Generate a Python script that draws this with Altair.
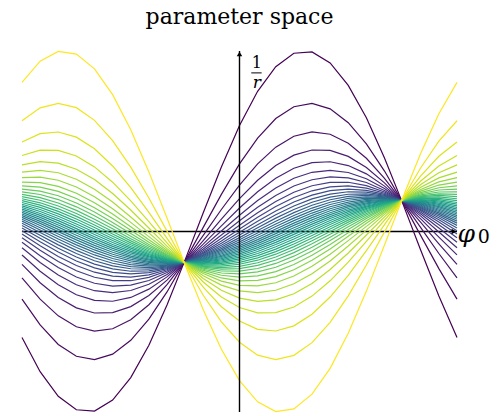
import numpy as np
import pandas as pd
import altair as alt

# Common crossing point of every curve in (phi0, 1/r) space
PHI_STAR = -0.8
KAPPA_STAR = -1.0

# Sampling grid of the azimuth phi0 (coarse, so the polylines show their corners)
phi0_grid = np.linspace(-np.pi, np.pi, 25)

# Slope of each hit curve at the crossing point, ordered purple -> yellow
slopes = [5.741, 4.013, 3.060, 2.451, 2.026, 1.703, 1.453, 1.251, 1.082, 0.937,
          0.811, 0.697, 0.596, 0.503, 0.417, 0.335, 0.257, 0.182, 0.108, 0.036,
          -0.036, -0.108, -0.182, -0.257, -0.335, -0.417, -0.503, -0.596, -0.697, -0.811,
          -0.937, -1.082, -1.251, -1.453, -1.703, -2.026, -2.451, -3.060, -4.013, -5.741]

Y_MAX = 5.827

rows = []
for i, b in enumerate(slopes):
    for p in phi0_grid:
        rows.append({
            "hit": i,
            "phi0": p,
            "inv_r": KAPPA_STAR * np.cos(p - PHI_STAR) + b * np.sin(p - PHI_STAR),
        })
curves_df = pd.DataFrame(rows)

x_scale = alt.Scale(domain=[-np.pi, np.pi], nice=False, zero=False)
y_scale = alt.Scale(domain=[-Y_MAX, Y_MAX], nice=False, zero=False)

# Horizontal phi0 axis (drawn under the curves)
h_axis_df = pd.DataFrame({"x": [-np.pi], "x2": [np.pi], "y": [0.0]})
h_axis = alt.Chart(h_axis_df).mark_rule(color="black", strokeWidth=1.4).encode(
    x=alt.X("x:Q", scale=x_scale, axis=None),
    x2="x2:Q",
    y=alt.Y("y:Q", scale=y_scale, axis=None),
)
h_head = alt.Chart(pd.DataFrame({"x": [np.pi], "y": [0.0]})).mark_point(
    shape="triangle-right", filled=True, color="black", size=30, opacity=1, xOffset=-3
).encode(
    x=alt.X("x:Q", scale=x_scale, axis=None),
    y=alt.Y("y:Q", scale=y_scale, axis=None),
)

curves = alt.Chart(curves_df).mark_line(strokeWidth=1.2).encode(
    x=alt.X("phi0:Q", scale=x_scale, axis=None),
    y=alt.Y("inv_r:Q", scale=y_scale, axis=None),
    color=alt.Color("hit:Q", scale=alt.Scale(scheme="viridis", domain=[0, len(slopes) - 1]), legend=None),
    detail="hit:N",
    order="phi0:Q",
)

# Vertical 1/r axis (drawn over the curves)
v_axis_df = pd.DataFrame({"x": [0.0], "y": [-Y_MAX], "y2": [Y_MAX]})
v_axis = alt.Chart(v_axis_df).mark_rule(color="black", strokeWidth=1.4).encode(
    x=alt.X("x:Q", scale=x_scale, axis=None),
    y=alt.Y("y:Q", scale=y_scale, axis=None),
    y2="y2:Q",
)
v_head = alt.Chart(pd.DataFrame({"x": [0.0], "y": [Y_MAX]})).mark_point(
    shape="triangle-up", filled=True, color="black", size=30, opacity=1, yOffset=3
).encode(
    x=alt.X("x:Q", scale=x_scale, axis=None),
    y=alt.Y("y:Q", scale=y_scale, axis=None),
)

# Axis labels: 1/r as a stacked fraction, phi_0 with a subscript
frac_bar = alt.Chart(pd.DataFrame({"x": [0.17], "x2": [0.32], "y": [5.12]})).mark_rule(
    color="black", strokeWidth=1
).encode(
    x=alt.X("x:Q", scale=x_scale, axis=None),
    x2="x2:Q",
    y=alt.Y("y:Q", scale=y_scale, axis=None),
)

labels_df = pd.DataFrame({
    "x": [0.25, 0.25, 3.275, 3.53],
    "y": [5.43, 4.80, -0.08, -0.17],
    "text": ["1", "r", "φ", "0"],
    "size": [16, 17, 25, 19],
    "style": ["normal", "italic", "italic", "normal"],
})


def label(sel):
    d = labels_df[labels_df["text"].isin(sel)]
    row = d.iloc[0]
    return alt.Chart(d).mark_text(
        font="DejaVu Serif", fontSize=int(row["size"]), fontStyle=row["style"],
        color="black", align="center", baseline="middle",
    ).encode(
        x=alt.X("x:Q", scale=x_scale, axis=None),
        y=alt.Y("y:Q", scale=y_scale, axis=None),
        text="text:N",
    )


title = alt.Chart(pd.DataFrame({"x": [0.0], "y": [6.684], "text": ["parameter space"]})).mark_text(
    font="DejaVu Serif", fontSize=22, color="black", align="center", baseline="alphabetic"
).encode(
    x=alt.X("x:Q", scale=x_scale, axis=None),
    y=alt.Y("y:Q", scale=y_scale, axis=None),
    text="text:N",
)

chart = alt.layer(
    h_axis, curves, h_head, v_axis, v_head, frac_bar,
    label(["1"]), label(["r"]), label(["φ"]), label(["0"]), title,
).properties(
    width=435, height=361,
    padding={"left": 22, "top": 51, "right": 41, "bottom": 4},
    autosize=alt.AutoSizeParams(type="none"),
    background="white",
).configure_view(stroke=None)

chart.save("out.html", embed_options={"renderer": "svg", "actions": False})
